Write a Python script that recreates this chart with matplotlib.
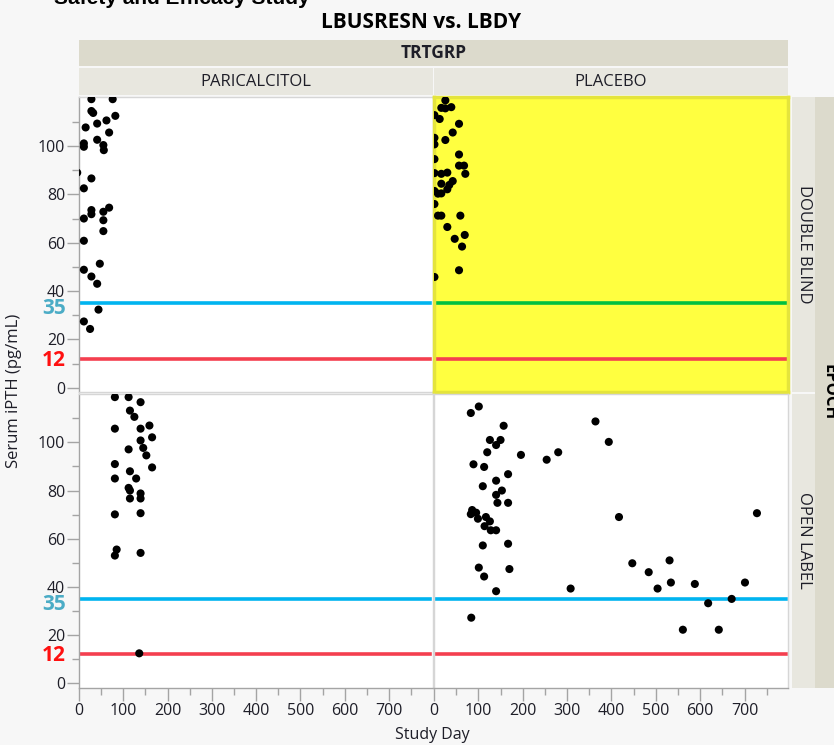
import matplotlib.pyplot as plt
from matplotlib.ticker import FixedLocator, MultipleLocator
from matplotlib.transforms import blended_transform_factory

plt.rcParams['font.family'] = ['Open Sans', 'DejaVu Sans']

W, H = 834, 745

# study day / serum iPTH for each treatment group and epoch
para_db_day = [28, 76, 28, 32, 82, 62, 41, 15, 68, 41, 11, 11, 55, 56, -4, 28,
               11, 68, 28, 28, 55, 11, 55, 55, 11, 47, 11, 28, 41, 44, 11, 25]
para_db_pth = [119.4, 119.4, 114.5, 113.7, 112.5, 110.6, 109.3, 107.7, 105.6,
               102.6, 101.1, 99.7, 100.4, 98.3, 89, 86.6, 82.5, 74.5, 73.5, 71.8,
               72.8, 70, 69.3, 64.8, 60.8, 51.3, 48.8, 46, 43, 32.3, 27.4, 24.3]

plac_db_day = [25.6, 16.5, 25.6, 39, 1, 12.8, 56.4, 42.2, 25.6, 1, 1, 56.4, 1,
               56.4, 67.7, 70.6, 1, 16.5, 30, 42.2, 16.5, 34.5, 30, 1, 9, 16.5,
               1, 9, 16.5, 59.4, 30, 46.7, 69.3, 63.2, 56.4, 1]
plac_db_pth = [118.9, 115.8, 115.6, 116.1, 112.8, 111.2, 109.2, 105.6, 102.5,
               103.4, 100.7, 96.5, 94.6, 91.9, 91.9, 88.5, 88.8, 88.5, 89, 85.5,
               84.4, 83.9, 82.1, 81.4, 80.3, 80.4, 76, 71.2, 71.2, 71.2, 66.5,
               61.6, 63.2, 58.4, 48.6, 45.8]

para_ol_day = [81, 112, 139, 115, 125, 81, 139, 159, 165, 139, 112, 145, 152, 81,
               165, 115, 81, 129, 112, 115, 139, 139, 115, 81, 139, 85, 81, 139,
               136]
para_ol_pth = [118.8, 118.8, 116.7, 113.2, 110.6, 105.7, 105.7, 107, 102.1,
               100.8, 97.1, 97.7, 94.6, 91, 89.6, 88, 85, 85, 81.1, 80, 78.8,
               76.7, 76.7, 70.1, 70.6, 55.5, 53, 54.1, 12.4]

plac_ol_day = [83, 101, 157, 126, 150, 140, 120, 196, 254, 280, 364, 394, 89, 113,
               167, 140, 110, 153, 140, 143, 167, 86, 83, 95, 99, 117, 126, 114,
               128, 140, 417, 110, 167, 101, 113, 170, 140, 308, 84, 447, 484,
               504, 531, 534, 588, 618, 671, 701, 728, 561, 642]
plac_ol_pth = [112.2, 114.9, 106.9, 101, 101, 98.9, 95.9, 94.8, 92.8, 95.9, 108.7,
               100.2, 90.9, 89.8, 86.8, 84.1, 81.8, 80, 78.2, 74.9, 74.9, 71.9,
               70.2, 70.8, 68.3, 69, 67.2, 65.2, 63.5, 63.5, 69, 57.2, 57.9, 48,
               44.3, 47.4, 38.2, 39.3, 27.2, 49.8, 46.1, 39.3, 51, 41.8, 41.2,
               33.2, 35, 41.8, 70.6, 22.2, 22.2]

groups = ['PARICALCITOL', 'PLACEBO']
epochs = ['DOUBLE BLIND', 'OPEN LABEL']
panels = {
    (0, 0): (para_db_day, para_db_pth),
    (0, 1): (plac_db_day, plac_db_pth),
    (1, 0): (para_ol_day, para_ol_pth),
    (1, 1): (plac_ol_day, plac_ol_pth),
}
upper_limit = 35
lower_limit = 12
y_ticks = [0, 20, 40, 60, 80, 100]
y_minor = [10, 30, 50, 70, 90, 110]
x_ticks = [0, 100, 200, 300, 400, 500, 600, 700]

GRID = '#d6d6d6'
AXIS = '#a4a4a4'
STRIP_DARK = '#dcdacc'
STRIP_LIGHT = '#e8e7df'
TXT = '#1e1e28'


def box(x0, y0, x1, y1):
    # pixel box (top-left origin) -> figure fraction rect
    return [x0 / W, 1 - y1 / H, (x1 - x0) / W, (y1 - y0) / H]


def strip(rect, color, label, rotation=0, weight='normal', size=12):
    ax = fig.add_axes(box(*rect))
    ax.set_facecolor(color)
    ax.set_xticks([])
    ax.set_yticks([])
    for s in ax.spines.values():
        s.set_visible(False)
    ax.text(0.5, 0.5, label, transform=ax.transAxes, ha='center', va='center',
            rotation=rotation, fontsize=size, fontweight=weight, color=TXT)
    return ax


fig = plt.figure(figsize=(W / 100, H / 100), dpi=100)
fig.patch.set_facecolor('#f7f7f7')

fig.text(310 / W, 1 - 4 / H, 'Safety and Efficacy Study', ha='right',
         va='baseline', fontsize=15, fontweight='bold', color='black',
         family='Liberation Sans')
fig.text(421 / W, 1 - 22 / H, 'LBUSRESN vs. LBDY', ha='center', va='center',
         fontsize=15, fontweight='bold', color='black')

# column / row strips
strip((79, 40, 788, 66), STRIP_DARK, 'TRTGRP', weight='bold', size=12.5)
strip((79, 68, 432.5, 95), STRIP_LIGHT, groups[0])
strip((434, 68, 788, 95), STRIP_LIGHT, groups[1])
strip((792, 97, 815, 392.5), STRIP_LIGHT, epochs[0], rotation=-90)
strip((792, 393.5, 815, 688), STRIP_LIGHT, epochs[1], rotation=-90)
strip((815, 97, 845, 688), STRIP_DARK, '', rotation=-90)
fig.text(829 / W, 1 - 392 / H, 'EPOCH', rotation=-90, ha='center', va='center',
         fontsize=12, fontweight='bold', color='black')

cols = [(79, 432.5), (434, 788)]
rows = [(97, 392.5), (393.5, 688)]

for (r, c), (days, pth) in panels.items():
    x0, x1 = cols[c]
    y0, y1 = rows[r]
    ax = fig.add_axes(box(x0, y0, x1, y1))
    highlight = (r, c) == (0, 1)
    ax.set_facecolor('#ffff40' if highlight else 'white')
    ax.set_xlim(0, 798)
    ax.set_ylim(-2, 120.3)

    for s in ax.spines.values():
        s.set_color('#e4e43c' if highlight else GRID)
        s.set_linewidth(2.5 if highlight else 1)

    ax.axhline(upper_limit, xmin=0.006, xmax=0.994,
               color='#00c040' if highlight else '#00b4f0', lw=2.6, zorder=2)
    ax.axhline(lower_limit, xmin=0.006, xmax=0.994, color='#f43f4f', lw=2.6,
               zorder=2)
    ax.scatter(days, pth, s=34, color='black', edgecolors='none', zorder=3)

    ax.tick_params(which='both', colors=AXIS, labelcolor=TXT, labelsize=11.5)
    ax.tick_params(which='major', length=9, width=1)
    ax.tick_params(which='minor', length=5, width=1)

    if c == 0:
        ax.spines['left'].set_color(AXIS)
        ax.yaxis.set_major_locator(FixedLocator(y_ticks))
        ax.yaxis.set_minor_locator(FixedLocator(y_minor))
        ax.tick_params(axis='y', pad=1)
        tr = blended_transform_factory(ax.transAxes, ax.transData)
        ax.annotate(str(upper_limit), xy=(0, upper_limit), xycoords=tr,
                    xytext=(-9.5, -4), textcoords='offset points', ha='right',
                    va='center', fontsize=15, fontweight='bold',
                    color='#4bacc6', annotation_clip=False)
        ax.annotate(str(lower_limit), xy=(0, lower_limit), xycoords=tr,
                    xytext=(-9.5, -1), textcoords='offset points', ha='right',
                    va='center', fontsize=15, fontweight='bold',
                    color='#ff1010', annotation_clip=False)
    else:
        ax.set_yticks([])

    if r == 1:
        ax.spines['bottom'].set_color(AXIS)
        ax.xaxis.set_major_locator(FixedLocator(x_ticks))
        ax.xaxis.set_minor_locator(MultipleLocator(50))
        ax.tick_params(axis='x', pad=2)
    else:
        ax.set_xticks([])

fig.text(14 / W, 1 - 391 / H, 'Serum iPTH (pg/mL)', rotation=90, ha='center',
         va='center', fontsize=12, color=TXT)
fig.text(432 / W, 1 - 735 / H, 'Study Day', ha='center', va='center',
         fontsize=11.5, color=TXT)

fig.savefig('out.png', dpi=100, facecolor=fig.get_facecolor())
